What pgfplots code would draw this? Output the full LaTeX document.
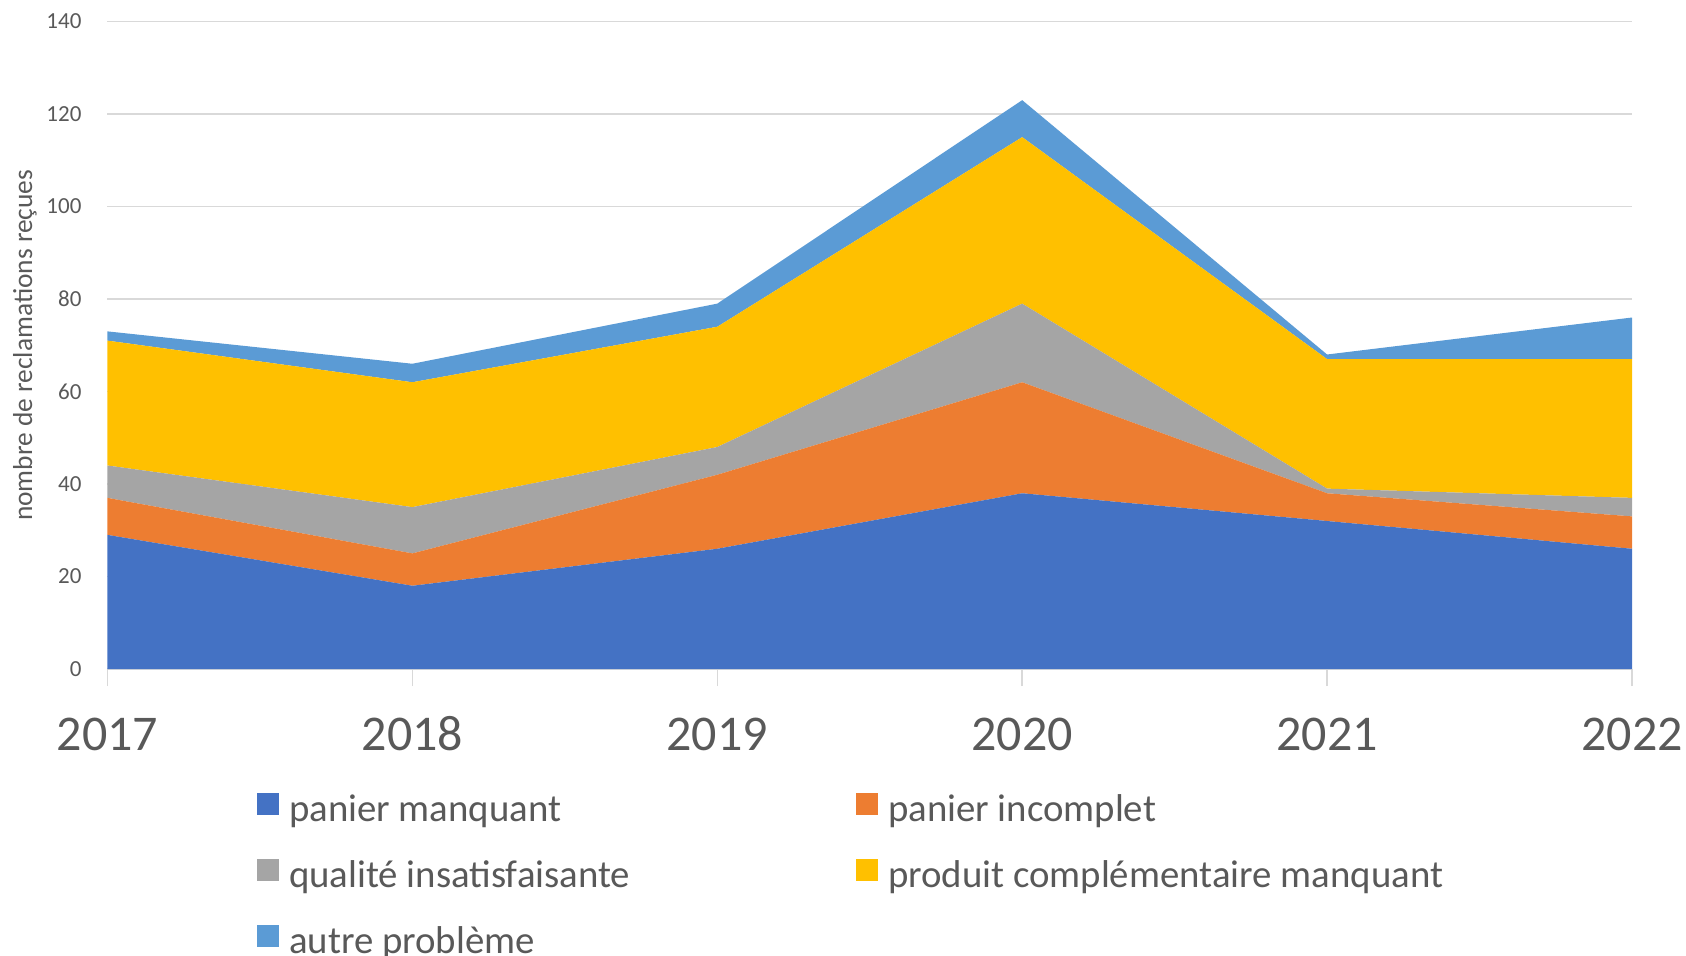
\documentclass[border=0pt]{standalone}
\usepackage{pgfplots}
\pgfplotsset{compat=1.18}
\usepackage{fontspec}
\setmainfont{Carlito}

\definecolor{cblue}{HTML}{4472C4}
\definecolor{corange}{HTML}{ED7D31}
\definecolor{cgray}{HTML}{A5A5A5}
\definecolor{cyellow}{HTML}{FFC000}
\definecolor{clight}{HTML}{5B9BD5}
\definecolor{ctext}{HTML}{595959}
\definecolor{cgrid}{HTML}{D9D9D9}

\begin{document}
\begin{tikzpicture}
\path[use as bounding box] (-53.75pt,-143pt) rectangle (789.25pt,334.5pt);
\begin{axis}[
    scale only axis,
    width=762.25pt, height=323.75pt,
    stack plots=y,
    xmin=2017, xmax=2022,
    ymin=0, ymax=140,
    xtick={2017,2018,2019,2020,2021,2022},
    xticklabels={2017,2018,2019,2020,2021,2022},
    ytick={0,20,40,60,80,100,120,140},
    yticklabels={0,20,40,60,80,100,120,140},
    axis line style={draw=none},
    axis x line*=bottom,
    axis y line*=left,
    ymajorgrids,
    grid style={cgrid, line width=0.75pt},
    tick align=outside,
    major tick length=8.5pt,
    xtick style={cgrid, line width=0.75pt},
    ytick style={draw=none},
    xticklabel style={font=\fontsize{25}{28}\selectfont, text=ctext, anchor=base, inner sep=0pt, yshift=-32pt},
    yticklabel style={font=\fontsize{11.5}{13}\selectfont, text=ctext, anchor=east, inner sep=0pt, xshift=-4.35pt},
    ylabel={nombre de reclamations reçues},
    ylabel style={font=\fontsize{13.7}{16}\selectfont, text=ctext, at={(axis description cs:-0.0541,0.5)}, anchor=center},
    legend columns=2,
    legend style={draw=none, fill=none, at={(axis description cs:0.0939,-0.184)}, anchor=north west,
        font=\fontsize{19.4}{22}\selectfont, text=ctext, row sep=14.5pt,
        nodes={inner sep=0pt, text height=13pt, text depth=4pt},
        /tikz/every odd column/.append style={column sep=5pt},
        /tikz/every even column/.append style={column sep=0pt}},
    legend cell align=left,
    legend image code/.code={\fill[#1] (0pt,-1pt) rectangle (11pt,10pt);},
    legend entries={{\makebox[283.5pt][l]{panier manquant}},{panier incomplet},
        {\makebox[283.5pt][l]{qualité insatisfaisante}},{produit complémentaire manquant},
        {autre problème}},
]
\addplot[fill=cblue, draw=none] coordinates {(2017,29) (2018,18) (2019,26) (2020,38) (2021,32) (2022,26)} \closedcycle;
\addplot[fill=corange, draw=none] coordinates {(2017,8) (2018,7) (2019,16) (2020,24) (2021,6) (2022,7)} \closedcycle;
\addplot[fill=cgray, draw=none] coordinates {(2017,7) (2018,10) (2019,6) (2020,17) (2021,1) (2022,4)} \closedcycle;
\addplot[fill=cyellow, draw=none] coordinates {(2017,27) (2018,27) (2019,26) (2020,36) (2021,28) (2022,30)} \closedcycle;
\addplot[fill=clight, draw=none] coordinates {(2017,2) (2018,4) (2019,5) (2020,8) (2021,1) (2022,9)} \closedcycle;
\end{axis}
\end{tikzpicture}
\end{document}
